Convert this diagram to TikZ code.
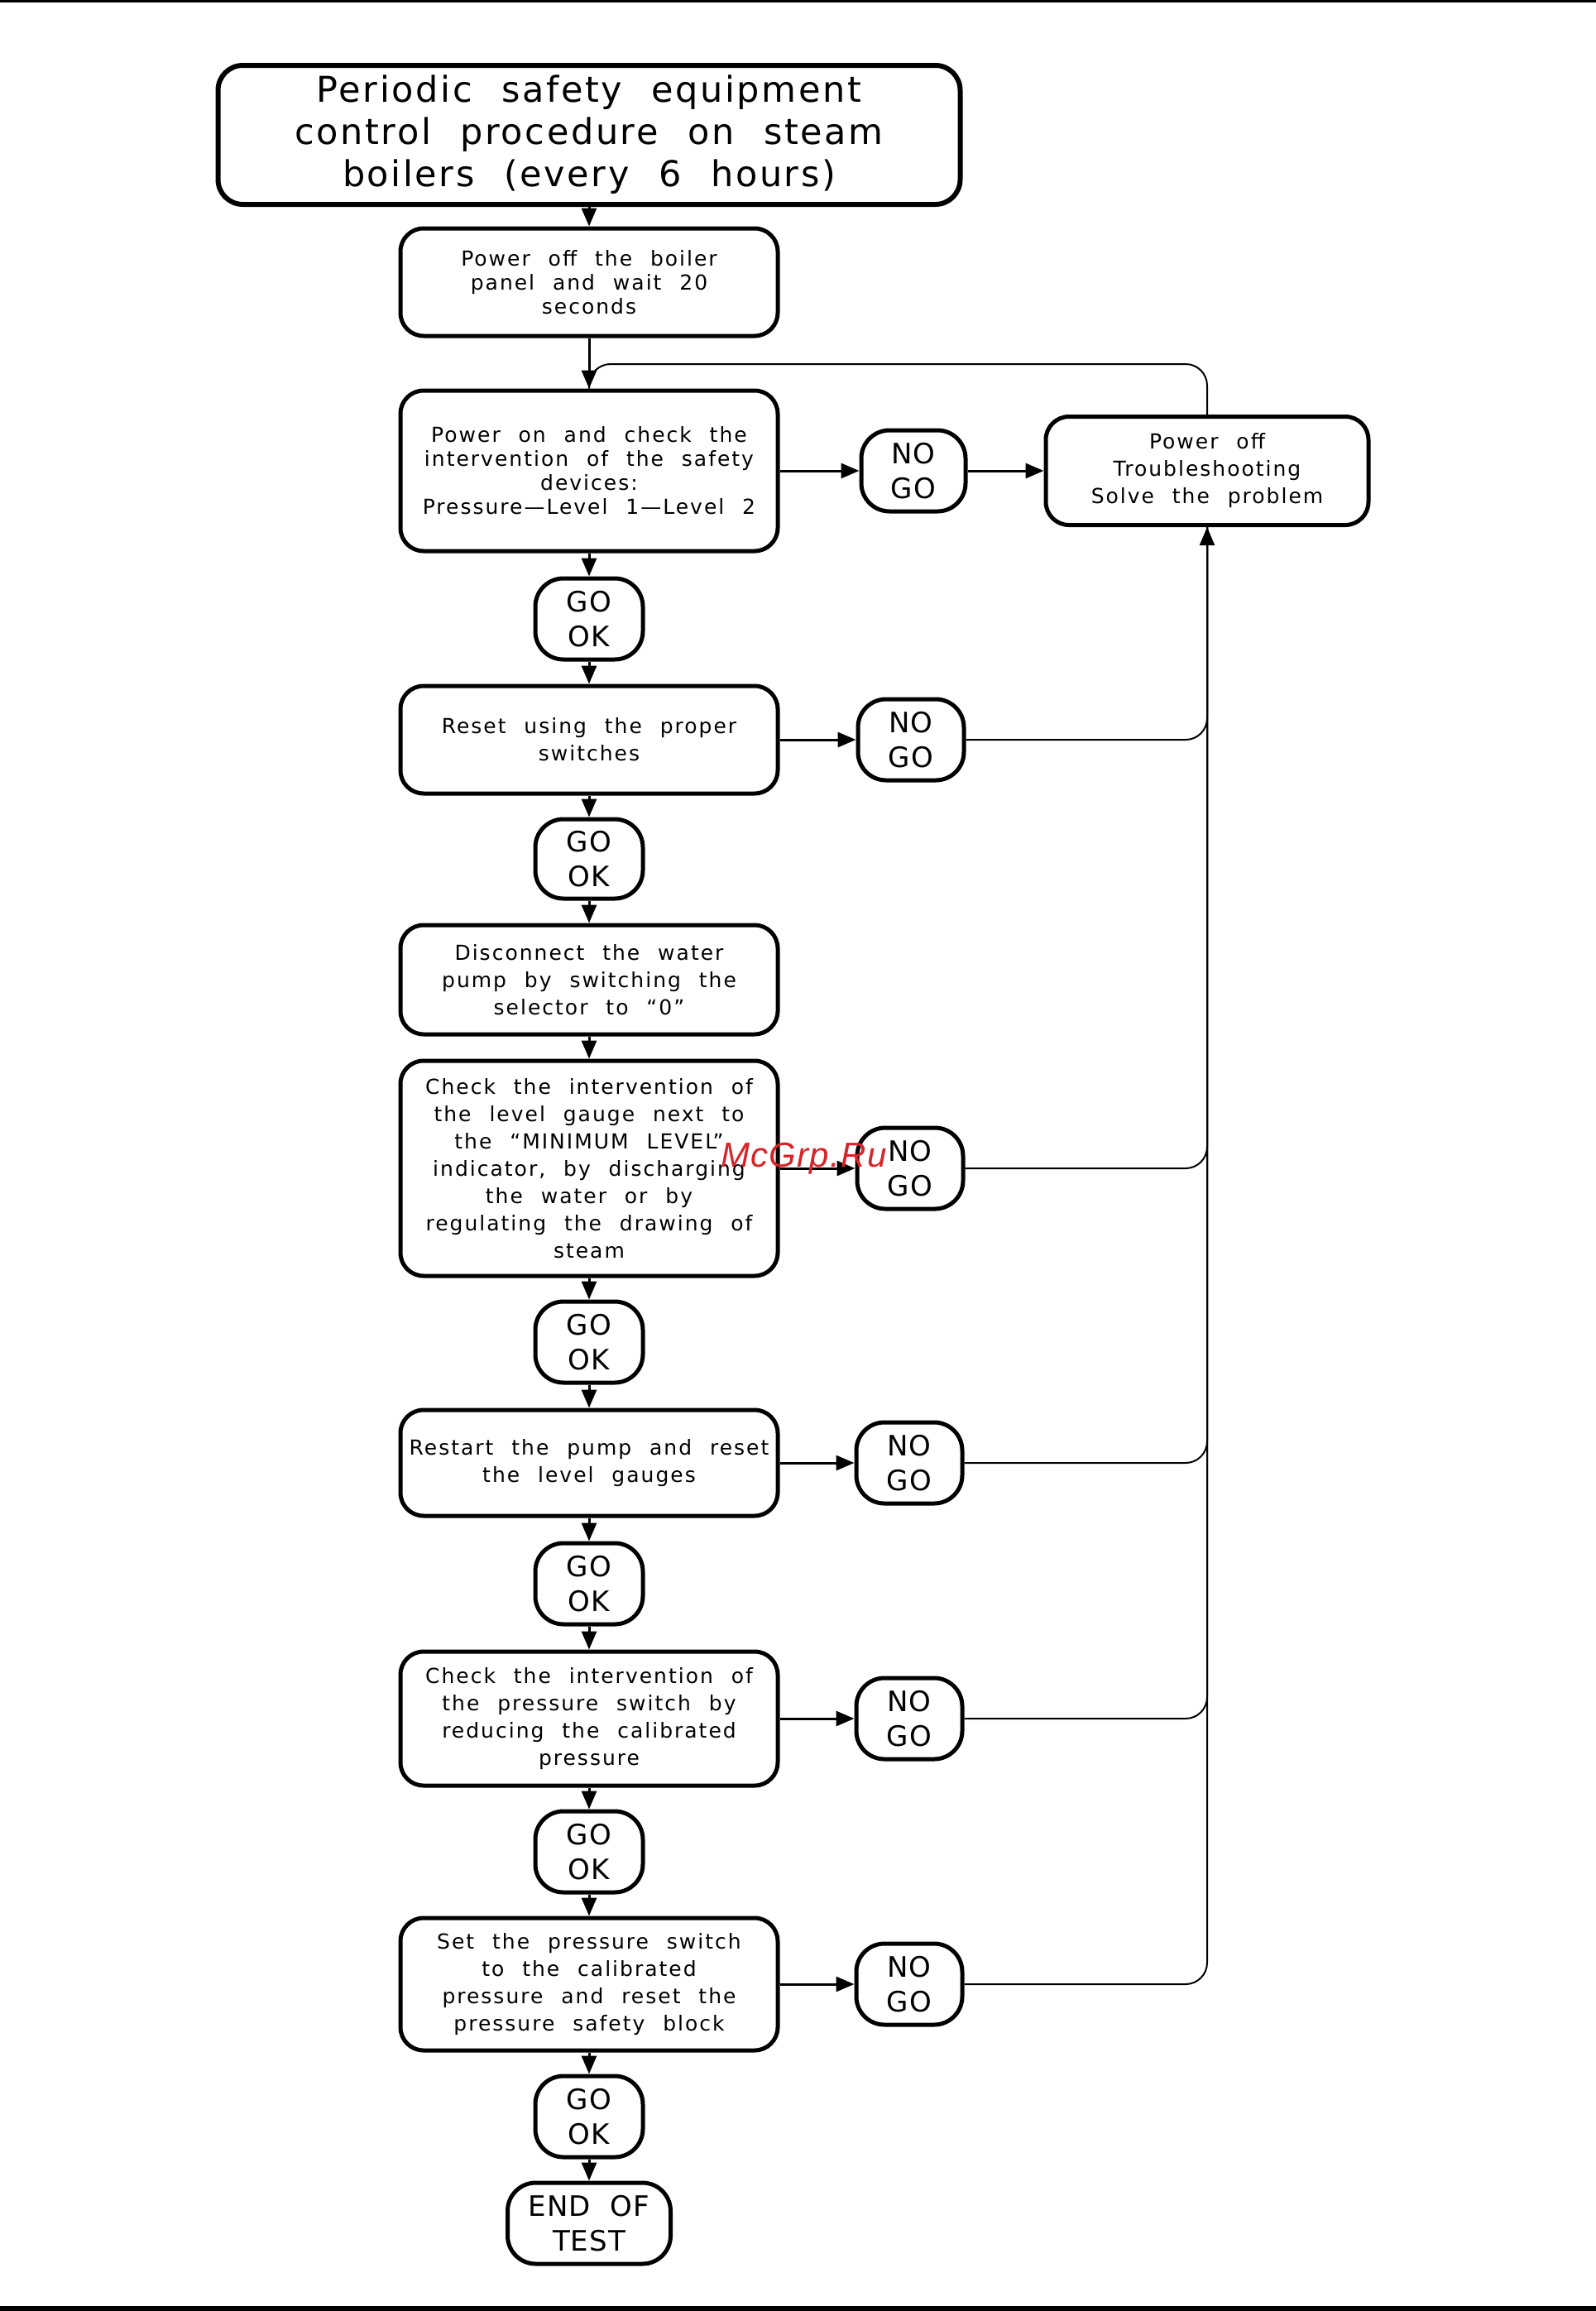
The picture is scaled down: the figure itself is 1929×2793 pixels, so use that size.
\documentclass[tikz,border=0pt]{standalone}
\usepackage{fontspec}
\setmainfont{DejaVu Sans}
\newfontfamily\boxfont[LetterSpace=8,WordSpace=2.2]{DejaVu Sans}
\newfontfamily\titlefont[LetterSpace=6,WordSpace=2.2]{DejaVu Sans}
\newfontfamily\pillfont[LetterSpace=3,WordSpace=2]{DejaVu Sans}
\newfontfamily\wmfont[LetterSpace=3]{Liberation Sans}
\usetikzlibrary{arrows.meta}
\definecolor{wmred}{RGB}{214,36,40}
\tikzset{
  stepbox/.style={draw, line width=5pt, rounded corners=28pt, minimum width=456pt,
    inner sep=0pt, align=center, font=\boxfont\fontsize{25}{33}\selectfont},
  tightbox/.style={font=\boxfont\fontsize{25}{29}\selectfont},
  pill/.style={draw, line width=5pt, rounded corners=34pt, minimum width=130pt,
    minimum height=98pt, inner sep=0pt, align=center, font=\pillfont\fontsize{34}{42}\selectfont},
  arr/.style={line width=3pt, -{Triangle[length=22pt,width=18pt]}},
  thinln/.style={line width=2pt, rounded corners=26pt},
}
\begin{document}
\begin{tikzpicture}[x=1pt,y=-1pt]
\useasboundingbox (0,0) rectangle (1929,2793);
\fill (0,0) rectangle (1929,3);
\fill (0,2787) rectangle (1929,2793);

\node[stepbox, line width=6pt, rounded corners=30pt, minimum width=897pt, minimum height=168pt,
  font=\titlefont\fontsize{43}{51}\selectfont] (title) at (712,163)
  {Periodic safety equipment\\control procedure on steam\\boilers (every 6 hours)};
\node[stepbox, tightbox, minimum height=130pt] (b1) at (712,341)
  {Power off the boiler\\panel and wait 20\\seconds};
\node[stepbox, tightbox, minimum height=194pt] (b2) at (712,569)
  {Power on and check the\\intervention of the safety\\devices:\\Pressure—Level 1—Level 2};
\node[pill, minimum width=126pt] (ng1) at (1104,569) {NO\\GO};
\node[stepbox, minimum width=390pt, minimum height=131pt] (ts) at (1459,569)
  {Power off\\Troubleshooting\\Solve the problem};
\node[pill] (g1) at (712,748) {GO\\OK};
\node[stepbox, minimum height=130pt] (b3) at (712,894)
  {Reset using the proper\\switches};
\node[pill, minimum width=128pt] (ng2) at (1101,894) {NO\\GO};
\node[pill, minimum height=96pt] (g2) at (712,1038) {GO\\OK};
\node[stepbox, minimum height=132pt] (b4) at (712,1184)
  {Disconnect the water\\pump by switching the\\selector to “0”};
\node[stepbox, minimum height=260pt] (b5) at (712,1412)
  {Check the intervention of\\the level gauge next to\\the “MINIMUM LEVEL”\\indicator, by discharging\\the water or by\\regulating the drawing of\\steam};
\node[pill, minimum width=128pt] (ng3) at (1100,1412) {NO\\GO};
\node[pill] (g3) at (712,1622) {GO\\OK};
\node[stepbox, minimum height=128pt] (b6) at (712,1768)
  {Restart the pump and reset\\the level gauges};
\node[pill, minimum width=128pt] (ng4) at (1099,1768) {NO\\GO};
\node[pill] (g4) at (712,1914) {GO\\OK};
\node[stepbox, minimum height=162pt] (b7) at (712,2077)
  {Check the intervention of\\the pressure switch by\\reducing the calibrated\\pressure};
\node[pill, minimum width=128pt] (ng5) at (1099,2077) {NO\\GO};
\node[pill] (g5) at (712,2238) {GO\\OK};
\node[stepbox, minimum height=160pt] (b8) at (712,2398)
  {Set the pressure switch\\to the calibrated\\pressure and reset the\\pressure safety block};
\node[pill, minimum width=128pt] (ng6) at (1099,2398) {NO\\GO};
\node[pill] (g6) at (712,2558) {GO\\OK};
\node[pill, minimum width=197pt] (end) at (712,2687) {END OF\\TEST};

% main column
\draw[arr] (title.south) -- (b1.north);
\draw[arr] (b1.south) -- (b2.north);
\draw[arr] (b2.south) -- (g1.north);
\draw[arr] (g1.south) -- (b3.north);
\draw[arr] (b3.south) -- (g2.north);
\draw[arr] (g2.south) -- (b4.north);
\draw[arr] (b4.south) -- (b5.north);
\draw[arr] (b5.south) -- (g3.north);
\draw[arr] (g3.south) -- (b6.north);
\draw[arr] (b6.south) -- (g4.north);
\draw[arr] (g4.south) -- (b7.north);
\draw[arr] (b7.south) -- (g5.north);
\draw[arr] (g5.south) -- (b8.north);
\draw[arr] (b8.south) -- (g6.north);
\draw[arr] (g6.south) -- (end.north);

% to NO GO
\draw[arr] (b2.east) -- (ng1.west);
\draw[arr] (ng1.east) -- (ts.west);
\draw[arr] (b3.east) -- (ng2.west);
\draw[arr] (b5.east) -- (ng3.west);
\draw[arr] (b6.east) -- (ng4.west);
\draw[arr] (b7.east) -- (ng5.west);
\draw[arr] (b8.east) -- (ng6.west);

% return trunk
\draw[thinln] (ng2.east) -| (ts.south);
\draw[thinln] (ng3.east) -| (ts.south);
\draw[thinln] (ng4.east) -| (ts.south);
\draw[thinln] (ng5.east) -| (ts.south);
\draw[thinln, -{Triangle[length=22pt,width=18pt]}] (ng6.east) -| (ts.south);

% feedback to power on
\coordinate (fbk) at (712,440);
\draw[thinln] (ts.north) |- (fbk) -- (b2.north);

% watermark
\node[text=wmred, font=\wmfont\itshape\fontsize{42}{42}\selectfont, anchor=base west, inner sep=0pt]
  (wm) at (871,1410) {McGrp.Ru};
\end{tikzpicture}
\end{document}
